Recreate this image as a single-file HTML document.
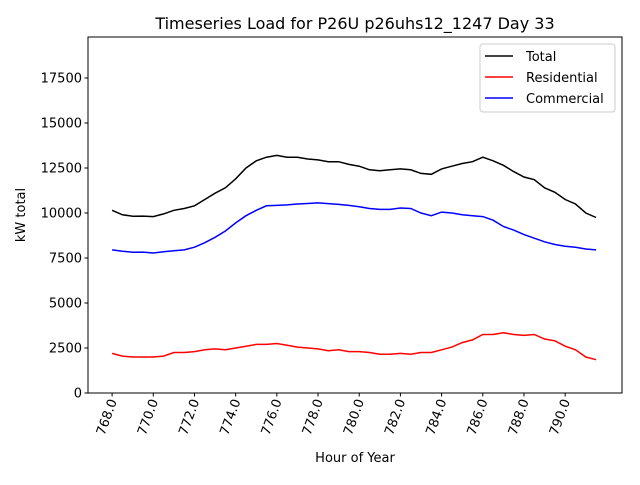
<!DOCTYPE html>
<html><head><meta charset="utf-8"><style>body{margin:0;background:#fff}svg{font-family:"DejaVu Sans","Liberation Sans",sans-serif}</style></head>
<body>
<svg id="c" width="640" height="480" viewBox="0 0 640 480"></svg>
<script>
const hours=[];for(let i=0;i<48;i++)hours.push(768+i*0.5);
const totalLoad=[10150,9900,9820,9830,9800,9950,10150,10250,10400,10750,11100,11400,11900,12500,12900,13100,13200,13100,13100,13000,12950,12850,12850,12700,12600,12400,12350,12400,12450,12400,12200,12150,12450,12600,12750,12850,13100,12900,12650,12300,12000,11850,11400,11150,10750,10500,10000,9750];
const residentialLoad=[2200,2050,2000,2000,2000,2050,2250,2250,2300,2400,2450,2400,2500,2600,2700,2700,2750,2650,2550,2500,2450,2350,2400,2300,2300,2250,2150,2150,2200,2150,2250,2250,2400,2550,2800,2950,3250,3250,3350,3250,3200,3250,3000,2900,2600,2400,2000,1850];
const commercialLoad=[7950,7880,7820,7830,7780,7850,7900,7950,8100,8350,8650,9000,9450,9850,10150,10400,10420,10450,10500,10530,10560,10520,10480,10420,10350,10250,10200,10200,10280,10250,10000,9850,10050,10000,9900,9850,9800,9600,9250,9050,8800,8600,8400,8250,8150,8100,8000,7950];
const xTicks=[768,770,772,774,776,778,780,782,784,786,788,790];
const yTicks=[0,2500,5000,7500,10000,12500,15000,17500];
const L=88,R=622,T=37,B=393,xmin=766.83,xmax=792.76,ymax=19778;
const X=v=>L+(v-xmin)/(xmax-xmin)*(R-L);
const Y=v=>B-v/ymax*(B-T);
const svg=document.getElementById('c');const NS='http://www.w3.org/2000/svg';
function mk(t,a,p){const e=document.createElementNS(NS,t);for(const k in a)e.setAttribute(k,a[k]);(p||svg).appendChild(e);return e;}
function line(d,color,name){const p=d.map((v,i)=>X(hours[i]).toFixed(1)+','+Y(v).toFixed(1)).join(' ');const e=mk('polyline',{points:p,fill:'none',stroke:color,'stroke-width':1.5});

}
line(totalLoad,'#000','total-line');line(residentialLoad,'#f00','residential-line');line(commercialLoad,'#00f','commercial-line');
const fr=mk('rect',{x:L,y:T,width:R-L,height:B-T,fill:'none',stroke:'#000','stroke-width':1});


xTicks.forEach(v=>{const x=X(v);mk('line',{x1:x,x2:x,y1:B,y2:B+3.5,stroke:'#000'});
const t=mk('text',{x:0,y:0,'font-size':13,'text-anchor':'end',transform:`translate(${x+5},${B+8}) rotate(-70)`});t.textContent=v.toFixed(1);

});
yTicks.forEach(v=>{const y=Y(v);mk('line',{x1:L-3.5,x2:L,y1:y,y2:y,stroke:'#000'});
const t=mk('text',{x:L-6,y:y+4.5,'font-size':13,'text-anchor':'end'});t.textContent=v;

});
let t=mk('text',{x:355,y:29,'font-size':16,'text-anchor':'middle'});t.textContent='Timeseries Load for P26U p26uhs12_1247  Day 33';


t=mk('text',{x:355,y:462,'font-size':13,'text-anchor':'middle'});t.textContent='Hour of Year';


t=mk('text',{x:0,y:0,'font-size':13,'text-anchor':'middle',transform:'translate(25,215) rotate(-90)'});t.textContent='kW total';


const lg=mk('g',{});


mk('rect',{x:480,y:44,width:135,height:68,rx:3,fill:'#fff',stroke:'#ccc'},lg);
[['Total','#000'],['Residential','#f00'],['Commercial','#00f']].forEach((s,i)=>{const y=56+i*21;
mk('line',{x1:485,x2:513,y1:y,y2:y,stroke:s[1],'stroke-width':1.5},lg);
const tt=mk('text',{x:526,y:y+5,'font-size':13},lg);tt.textContent=s[0];

});
</script>
</body></html>
